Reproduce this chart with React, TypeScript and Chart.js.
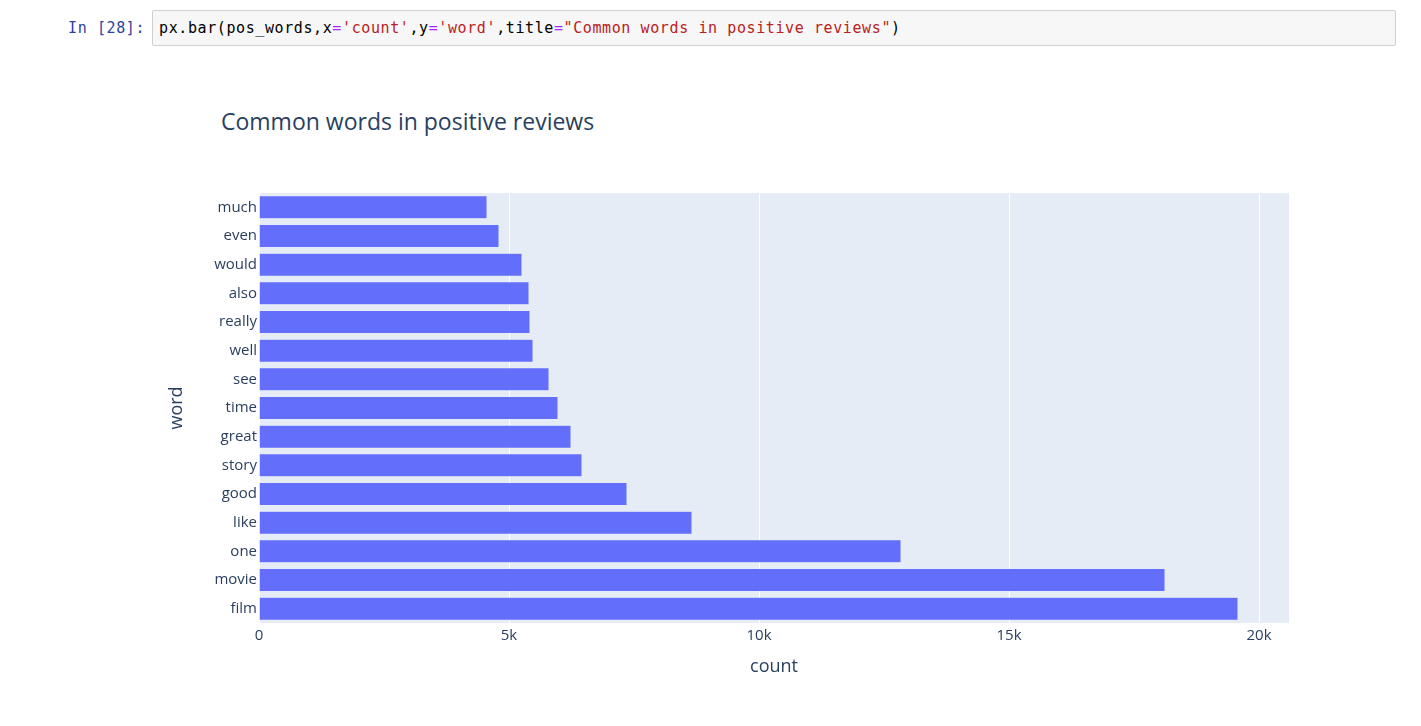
import React, { useEffect, useRef } from "react";
import { Chart, registerables } from "chart.js";

Chart.register(...registerables);

const words = ["film", "movie", "one", "like", "good", "story", "great", "time", "see", "well", "really", "also", "would", "even", "much"];
const counts = [19580, 18120, 12840, 8660, 7360, 6460, 6240, 5980, 5800, 5480, 5420, 5400, 5260, 4800, 4560];
const xTickValues = [0, 5000, 10000, 15000, 20000];
const xTickLabels = ["0", "5k", "10k", "15k", "20k"];
const chartTitle = "Common words in positive reviews";
const xTitle = "count";
const yTitle = "word";

const FONT = "'Open Sans', verdana, arial, sans-serif";
const TEXT = "#2a3f5f";

const plotBg = {
  id: "plotBg",
  beforeDraw(chart: any) {
    const { ctx, chartArea } = chart;
    ctx.save();
    ctx.fillStyle = "#E5ECF6";
    ctx.fillRect(chartArea.left, chartArea.top, chartArea.right - chartArea.left, chartArea.bottom - chartArea.top);
    ctx.restore();
  },
};

export default function App() {
  const ref = useRef<HTMLCanvasElement | null>(null);
  useEffect(() => {
    const chart = new Chart(ref.current as HTMLCanvasElement, {
      type: "bar",
      data: {
        labels: words,
        datasets: [
          {
            data: counts,
            backgroundColor: "#636efa",
            borderColor: "#E5ECF6",
            borderWidth: 0.5,
            barPercentage: 0.8,
            categoryPercentage: 1,
          },
        ],
      },
      plugins: [plotBg],
      options: {
        indexAxis: "y",
        animation: false,
        responsive: false,
        devicePixelRatio: 1,
        layout: { padding: { left: 166, right: 132, top: 43, bottom: 32 } },
        plugins: { legend: { display: false }, tooltip: { enabled: false }, title: { display: false } },
        scales: {
          x: {
            type: "linear",
            min: 0,
            max: 20600,
            afterFit: (s: any) => { s.height = 55; },
            afterBuildTicks: (s: any) => { s.ticks = xTickValues.map((v) => ({ value: v })); },
            ticks: {
              callback: (v: any) => xTickLabels[xTickValues.indexOf(Number(v))] ?? "",
              color: TEXT,
              font: { family: FONT, size: 15 },
              padding: 4,
              maxRotation: 0,
            },
            grid: { color: "#ffffff", lineWidth: 1, drawTicks: false },
            border: { display: false },
            title: { display: true, text: xTitle, color: TEXT, font: { family: FONT, size: 18 }, padding: { top: 0, bottom: 0 } },
          },
          y: {
            reverse: true,
            afterFit: (s: any) => { s.width = 93; },
            ticks: { color: TEXT, font: { family: FONT, size: 15 }, padding: 2 },
            grid: { display: false, drawTicks: false },
            border: { display: false },
            title: { display: true, text: yTitle, color: TEXT, font: { family: FONT, size: 18 }, padding: { top: 0, bottom: 0 } },
          },
        },
      },
    } as any);
    return () => chart.destroy();
  }, []);

  const mono = "'DejaVu Sans Mono', monospace";
  return (
    <div style={{ position: "fixed", left: 0, top: 0, width: 1421, height: 726, background: "#fff" }}>
      <div style={{ position: "absolute", left: 68, top: 19, fontFamily: mono, fontSize: 15, letterSpacing: "0.6px", color: "#303F9F", lineHeight: "18px", whiteSpace: "pre" }}>
        In [28]:
      </div>
      <div style={{ position: "absolute", left: 152, top: 10, width: 1242, height: 34, background: "#f7f7f7", border: "1px solid #cfcfcf", borderRadius: 2 }}>
        <div style={{ position: "absolute", left: 6, top: 8, fontFamily: mono, fontSize: 15, letterSpacing: "0.6px", color: "#000", lineHeight: "18px", whiteSpace: "pre" }}>
          <span>px.bar(pos_words,x</span><span style={{ color: "#AA22FF" }}>=</span><span style={{ color: "#BA2121" }}>'count'</span><span>,y</span><span style={{ color: "#AA22FF" }}>=</span><span style={{ color: "#BA2121" }}>'word'</span><span>,title</span><span style={{ color: "#AA22FF" }}>=</span><span style={{ color: "#BA2121" }}>"Common words in positive reviews"</span><span>)</span>
        </div>
      </div>
      <div style={{ position: "absolute", left: 221, top: 106, fontFamily: FONT, fontSize: 23, color: TEXT, lineHeight: "30px", whiteSpace: "pre" }}>
        {chartTitle}
      </div>
      <canvas ref={ref} width={1421} height={560} style={{ position: "absolute", left: 0, top: 150, width: 1421, height: 560 }} />
    </div>
  );
}
